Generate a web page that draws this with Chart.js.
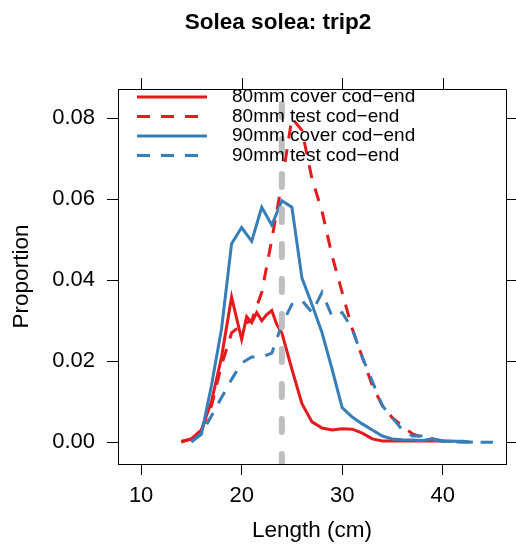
<!DOCTYPE html>
<html><head><meta charset="utf-8">
<script src="https://cdn.jsdelivr.net/npm/chart.js@4"></script>
<style>html,body{margin:0;padding:0;background:#fff}#wrap{width:516px;height:552px}</style>
</head><body><div id="wrap"><canvas id="c" width="516" height="552"></canvas></div>
<script>
const chartTitle = 'Solea solea: trip2';
const xTitle = 'Length (cm)';
const yTitle = 'Proportion';
const xTicks = [10, 20, 30, 40];
const yTicks = [0, 0.02, 0.04, 0.06, 0.08];
const cutLength = 24;
const seriesLabels = ['80mm cover cod\u2212end', '80mm test cod\u2212end', '90mm cover cod\u2212end', '90mm test cod\u2212end'];

const cover80Len = [14, 15, 16, 17, 18, 19, 20, 20.5, 21, 21.5, 22, 22.5, 23, 23.5, 24, 25, 26, 27, 28, 29, 30, 31, 32, 33, 34, 35, 36, 37, 38, 39, 40, 41];
const cover80 = [0.0002, 0.0008, 0.003, 0.010, 0.021, 0.0358, 0.0254, 0.031, 0.0295, 0.032, 0.030, 0.0315, 0.0325, 0.029, 0.027, 0.018, 0.0095, 0.005, 0.0035, 0.003, 0.0033, 0.0032, 0.0022, 0.0008, 0.0003, 0.0003, 0.0003, 0.0003, 0.0003, 0.0003, 0.0003, 0.0002];

const test80Len = [14, 15, 16, 17, 18, 19, 20, 21, 22, 23, 24, 25, 26, 27, 28, 29, 30, 31, 32, 33, 34, 35, 36, 37, 38, 39, 40];
const test80 = [0, 0.0008, 0.003, 0.009, 0.019, 0.027, 0.029, 0.030, 0.037, 0.050, 0.064, 0.080, 0.077, 0.065, 0.057, 0.046, 0.037, 0.028, 0.021, 0.014, 0.009, 0.006, 0.004, 0.002, 0.0012, 0.0008, 0.0003];

const cover90Len = [15, 16, 17, 18, 19, 20, 21, 22, 23, 24, 25, 26, 27, 28, 29, 30, 31, 32, 33, 34, 35, 36, 37, 38, 39, 40, 41, 42, 43];
const cover90 = [0.0003, 0.002, 0.014, 0.028, 0.049, 0.053, 0.0496, 0.058, 0.0536, 0.0596, 0.058, 0.0405, 0.034, 0.027, 0.018, 0.0085, 0.0062, 0.0045, 0.003, 0.0015, 0.0008, 0.0006, 0.0005, 0.0004, 0.0008, 0.0003, 0.0002, 0.0002, 0];

const test90Len = [15, 16, 17, 18, 19, 20, 21, 22, 23, 24, 25, 26, 27, 28, 29, 30, 31, 32, 33, 34, 35, 36, 37, 38, 39, 40, 41, 42, 43, 44, 45];
const test90 = [0, 0.002, 0.0065, 0.011, 0.0155, 0.0195, 0.021, 0.021, 0.022, 0.029, 0.034, 0.035, 0.032, 0.037, 0.031, 0.032, 0.028, 0.021, 0.015, 0.009, 0.006, 0.003, 0.0015, 0.0015, 0.0005, 0.0002, 0.0001, 0, 0, 0, 0];

const RED = '#e41a1c', BLUE = '#377eb8', GREY = '#bebebe';
const FONT = 'Liberation Sans, Arial, sans-serif';
const X_MIN = 7.7, X_MAX = 46.3, Y_MIN = -0.0054, Y_MAX = 0.0872;

const pts = (xs, ys) => xs.map((x, i) => ({x: x, y: ys[i]}));

const datasets = [
  {label: seriesLabels[0], data: pts(cover80Len, cover80), borderColor: RED, borderWidth: 3, order: 4},
  {label: seriesLabels[1], data: pts(test80Len, test80), borderColor: RED, borderWidth: 3, borderDash: [13, 11], order: 3},
  {label: seriesLabels[2], data: pts(cover90Len, cover90), borderColor: BLUE, borderWidth: 3, order: 2},
  {label: seriesLabels[3], data: pts(test90Len, test90), borderColor: BLUE, borderWidth: 3, borderDash: [13, 11], order: 1},
  {label: 'cut', data: [{x: cutLength, y: -0.00617}, {x: cutLength, y: Y_MAX + 0.01}], borderColor: GREY, borderWidth: 6, borderDash: [13, 22], borderCapStyle: 'round', order: 0, clip: 0}
];

const framePlugin = {
  id: 'frame',
  afterDatasetsDraw(chart) {
    const ctx = chart.ctx, a = chart.chartArea;
    const xs = chart.scales.x, ys = chart.scales.y;
    ctx.save();
    // legend
    ctx.font = '19px ' + FONT;
    ctx.textBaseline = 'middle';
    ctx.textAlign = 'left';
    const rows = [97, 116.5, 136, 155.5];
    for (let i = 0; i < 4; i++) {
      const ds = chart.data.datasets[i];
      ctx.strokeStyle = ds.borderColor;
      ctx.lineWidth = 3;
      ctx.setLineDash(ds.borderDash || []);
      ctx.beginPath();
      ctx.moveTo(137, rows[i]);
      ctx.lineTo(207, rows[i]);
      ctx.stroke();
      ctx.setLineDash([]);
      ctx.fillStyle = '#000';
      ctx.fillText(ds.label, 232, rows[i]);
    }
    // frame and top/right ticks
    ctx.strokeStyle = '#000';
    ctx.lineWidth = 1;
    ctx.beginPath();
    ctx.rect(Math.round(a.left) + 0.5, Math.round(a.top) + 0.5, Math.round(a.right - a.left), Math.round(a.bottom - a.top));
    xTicks.forEach(v => {
      const p = Math.round(xs.getPixelForValue(v)) + 0.5;
      ctx.moveTo(p, a.top);
      ctx.lineTo(p, a.top - 11);
    });
    yTicks.forEach(v => {
      const p = Math.round(ys.getPixelForValue(v)) + 0.5;
      ctx.moveTo(a.right, p);
      ctx.lineTo(a.right + 11, p);
    });
    ctx.stroke();
    // main title
    ctx.font = 'bold 22.5px ' + FONT;
    ctx.textAlign = 'center';
    ctx.fillStyle = '#000';
    ctx.fillText(chartTitle, 278, 23);
    ctx.restore();
  }
};

new Chart(document.getElementById('c'), {
  type: 'line',
  data: {datasets: datasets},
  plugins: [framePlugin],
  options: {
    responsive: false,
    animation: false,
    devicePixelRatio: 1,
    layout: {padding: {left: 0, right: 10, top: 89, bottom: 0}},
    elements: {point: {radius: 0}, line: {tension: 0, fill: false}},
    plugins: {legend: {display: false}, tooltip: {enabled: false}, title: {display: false}},
    scales: {
      x: {
        type: 'linear', min: X_MIN, max: X_MAX,
        afterBuildTicks: s => { s.ticks = xTicks.map(v => ({value: v})); },
        afterFit: s => { s.height = 88; },
        ticks: {font: {size: 22, family: FONT}, color: '#000', padding: 8, maxRotation: 0, autoSkip: false, callback: v => String(v)},
        grid: {display: true, drawOnChartArea: false, drawTicks: true, tickLength: 11, color: '#000', lineWidth: 1},
        border: {display: true, color: '#000', width: 1},
        title: {display: true, text: xTitle, color: '#000', font: {size: 22.5, family: FONT}, padding: {top: 0, bottom: 7.5}}
      },
      y: {
        type: 'linear', min: Y_MIN, max: Y_MAX,
        afterBuildTicks: s => { s.ticks = yTicks.map(v => ({value: v})); },
        afterFit: s => { s.width = 118; },
        ticks: {font: {size: 22, family: FONT}, color: '#000', padding: 12, autoSkip: false, callback: v => Number(v).toFixed(2)},
        grid: {display: true, drawOnChartArea: false, drawTicks: true, tickLength: 11, color: '#000', lineWidth: 1},
        border: {display: true, color: '#000', width: 1},
        title: {display: true, text: yTitle, color: '#000', font: {size: 22.5, family: FONT}, padding: {top: 8.5, bottom: 0}}
      }
    }
  }
});
</script>
</body></html>
